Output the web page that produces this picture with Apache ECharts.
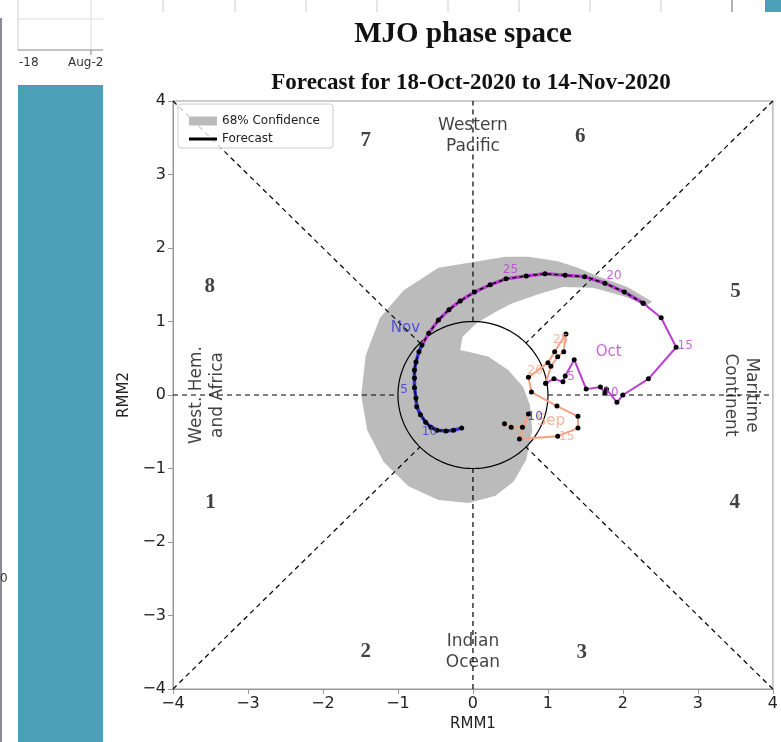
<!DOCTYPE html>
<html><head><meta charset="utf-8">
<script src="https://cdn.jsdelivr.net/npm/echarts@6/dist/echarts.min.js"></script>
<style>html,body{margin:0;padding:0;background:#fff}#c{width:781px;height:742px}</style>
</head><body><div id="c"></div>
<script>
// ---------- data (RMM1, RMM2) ----------
const sepObs = [[0.42,-0.39],[0.51,-0.44],[0.66,-0.44],[0.74,-0.26],[0.62,-0.60],[1.13,-0.56],[1.40,-0.45],[1.40,-0.29],[1.12,-0.15],[0.78,0.04],[0.74,0.24],[1.00,0.44],[1.09,0.59],[1.24,0.83],[1.21,0.59],[1.13,0.52],[1.04,0.39]];
const octObs = [[0.97,0.16],[1.08,0.22],[1.20,0.18],[1.23,0.26],[1.35,0.48],[1.51,0.08],[1.70,0.11],[1.76,0.03],[1.78,0.08],[1.92,-0.10],[2.00,0.00],[2.34,0.22],[2.71,0.65],[2.51,1.05],[2.27,1.25]];
const fcOct = [[2.02,1.40],[1.76,1.52],[1.49,1.61],[1.23,1.63],[0.96,1.65],[0.71,1.62],[0.44,1.58],[0.23,1.50],[0.02,1.40],[-0.17,1.28],[-0.32,1.16],[-0.46,1.02],[-0.59,0.84]];
const fcNov = [[-0.68,0.68],[-0.72,0.59],[-0.76,0.45],[-0.78,0.34],[-0.78,0.23],[-0.78,0.10],[-0.76,-0.04],[-0.75,-0.16],[-0.70,-0.27],[-0.63,-0.37],[-0.56,-0.44],[-0.48,-0.48],[-0.36,-0.49],[-0.26,-0.48],[-0.15,-0.45]];
const confPoly = [[2.39,1.27],[2.06,1.47],[1.66,1.62],[1.40,1.73],[1.13,1.82],[0.74,1.88],[0.43,1.88],[0.07,1.82],[-0.46,1.73],[-0.92,1.43],[-1.24,1.05],[-1.43,0.54],[-1.49,0.00],[-1.41,-0.48],[-1.19,-0.91],[-0.86,-1.24],[-0.46,-1.43],[-0.06,-1.47],[0.30,-1.37],[0.54,-1.18],[0.71,-0.88],[0.79,-0.48],[0.76,-0.14],[0.67,0.11],[0.47,0.34],[0.21,0.52],[-0.06,0.59],[-0.17,0.61],[-0.14,0.79],[0.05,0.98],[0.30,1.13],[0.51,1.24],[0.87,1.37],[1.20,1.47],[1.60,1.46],[1.99,1.35],[2.32,1.22]];
const phaseLines = [[-4,-4,-0.7071,-0.7071],[4,4,0.7071,0.7071],[-4,4,-0.7071,0.7071],[4,-4,0.7071,-0.7071],[-4,0,-1,0],[1,0,4,0],[0,-4,0,-1],[0,1,0,4]];
const unitCircle = [[0,0,1]];
const sepMonth = [[1.04,-0.35,'Sep']];
const sepDays = [[1.25,-0.57,'15'],[0.83,0.33,'20'],[1.17,0.75,'25']];
const navyLabels = [[0.83,-0.30,'10']];
const octMonth = [[1.81,0.59,'Oct']];
const octDays = [[1.31,0.24,'5'],[1.84,0.03,'10'],[2.83,0.67,'15'],[1.88,1.62,'20'],[0.50,1.70,'25']];
const novMonth = [[-0.90,0.91,'Nov']];
const novDays = [[-0.92,0.07,'5'],[-0.58,-0.50,'10']];
const phaseNums = [[-3.50,-1.46,'1'],[-1.43,-3.49,'2'],[1.45,-3.50,'3'],[3.49,-1.47,'4'],[3.50,1.41,'5'],[1.43,3.52,'6'],[-1.43,3.46,'7'],[-3.51,1.47,'8']];
const regionsH = [[0,3.52,'Western\nPacific'],[0,-3.50,'Indian\nOcean']];
const regionW = [[-3.54,0,'West. Hem.\nand Africa']];
const regionE = [[3.58,0,'Maritime\nContinent']];
const axisMin = -4, axisMax = 4, axisStep = 1;

// ---------- styling ----------
const C_SEP = '#f5a083', C_OCT = '#bb3dd2', C_NOV = '#3a32dc', C_GREY = '#bbbbbb';
const F = 'DejaVu Sans';
const minus = v => (v < 0 ? '\u2212' + Math.abs(v) : String(v));

function textSeries(data, color, size, extra) {
  return {
    type: 'scatter', data: data, symbolSize: 0, silent: true, z: 6,
    label: Object.assign({show: true, position: 'inside', formatter: p => p.data[2],
      color: color, fontSize: size, fontFamily: F}, extra || {})
  };
}

const chart = echarts.init(document.getElementById('c'));
const lastOct = octObs[octObs.length - 1];
const forecastAll = [lastOct].concat(fcOct, fcNov);

chart.setOption({
  animation: false,
  grid: {left: 173, right: 5, top: 101, bottom: 53, show: true, borderColor: '#999', borderWidth: 1},
  xAxis: {type: 'value', min: axisMin, max: axisMax, interval: axisStep,
    name: 'RMM1', nameLocation: 'middle', nameGap: 26,
    nameTextStyle: {fontSize: 15, color: '#222', fontFamily: F},
    axisLine: {onZero: false, lineStyle: {color: '#999'}},
    axisTick: {show: true, length: 5, lineStyle: {color: '#999'}},
    axisLabel: {formatter: minus, fontSize: 16, color: '#222', fontFamily: F, margin: 7},
    splitLine: {show: false}},
  yAxis: {type: 'value', min: axisMin, max: axisMax, interval: axisStep,
    name: 'RMM2', nameLocation: 'middle', nameGap: 40,
    nameTextStyle: {fontSize: 15, color: '#222', fontFamily: F},
    axisLine: {onZero: false, lineStyle: {color: '#999'}},
    axisTick: {show: true, length: 5, lineStyle: {color: '#999'}},
    axisLabel: {formatter: minus, fontSize: 16, color: '#222', fontFamily: F, margin: 7},
    splitLine: {show: false}},
  legend: [
    {left: 184, top: 110, orient: 'vertical', itemWidth: 28, itemHeight: 9, icon: 'rect', z: 60,
     data: [{name: '68% Confidence', itemStyle: {color: C_GREY}}],
     textStyle: {fontSize: 12, color: '#222', fontFamily: F}, selectedMode: false},
    {left: 184, top: 128, orient: 'vertical', itemWidth: 28, itemHeight: 3, icon: 'rect', z: 60,
     data: [{name: 'Forecast', itemStyle: {color: '#000'}}],
     textStyle: {fontSize: 12, color: '#222', fontFamily: F}, selectedMode: false}
  ],
  series: [
    {type: 'custom', name: '68% Confidence', data: [confPoly[0]], encode: {x: 0, y: 1}, z: 1, silent: true,
     itemStyle: {color: C_GREY},
     renderItem: (params, api) => ({type: 'polygon', shape: {points: confPoly.map(p => api.coord(p))},
       style: {fill: C_GREY, stroke: null}})},
    {type: 'custom', data: phaseLines, encode: {x: [0, 2], y: [1, 3]}, z: 2, silent: true,
     renderItem: (params, api) => {
       const a = api.coord([api.value(0), api.value(1)]), b = api.coord([api.value(2), api.value(3)]);
       return {type: 'line', shape: {x1: a[0], y1: a[1], x2: b[0], y2: b[1]},
         style: {stroke: '#000', lineWidth: 1.2, lineDash: [5, 4]}};
     }},
    {type: 'custom', data: unitCircle, encode: {x: 0, y: 1}, z: 2, silent: true,
     renderItem: (params, api) => {
       const cx = api.value(0), cy = api.value(1), r = api.value(2), pts = [];
       for (let i = 0; i <= 180; i++) { const t = i / 180 * 2 * Math.PI; pts.push(api.coord([cx + r * Math.cos(t), cy + r * Math.sin(t)])); }
       return {type: 'polyline', shape: {points: pts}, style: {stroke: '#000', lineWidth: 1.2, fill: null}};
     }},
    {type: 'line', data: sepObs.concat([octObs[0]]), z: 3, silent: true, lineStyle: {color: C_SEP, width: 2},
     symbol: 'circle', symbolSize: 5, itemStyle: {color: '#000'}},
    {type: 'line', data: octObs, z: 3, silent: true, lineStyle: {color: C_OCT, width: 2},
     symbol: 'circle', symbolSize: 5, itemStyle: {color: '#000'}},
    {type: 'line', data: [lastOct].concat(fcOct, [fcNov[0]]), z: 4, silent: true, lineStyle: {color: C_OCT, width: 3.5},
     symbol: 'none'},
    {type: 'line', data: fcNov, z: 4, silent: true, lineStyle: {color: C_NOV, width: 3.5}, symbol: 'none'},
    {type: 'line', name: 'Forecast', data: forecastAll, z: 5, silent: true, color: '#000',
     lineStyle: {color: '#000', width: 1.5, type: [4, 3]},
     symbol: 'circle', symbolSize: 5, itemStyle: {color: '#000'}},
    textSeries(sepMonth, C_SEP, 15),
    textSeries(sepDays, C_SEP, 12),
    textSeries(navyLabels, '#2c2c9a', 12),
    textSeries(octMonth, C_OCT, 15),
    textSeries(octDays, C_OCT, 12),
    textSeries(novMonth, C_NOV, 15),
    textSeries(novDays, C_NOV, 12),
    textSeries(phaseNums, '#111', 21, {fontFamily: 'Liberation Serif', fontWeight: 'bold'}),
    textSeries(regionsH, '#111', 17, {lineHeight: 21}),
    textSeries(regionW, '#111', 17, {lineHeight: 21, rotate: 90}),
    textSeries(regionE, '#111', 17, {lineHeight: 21, rotate: -90})
  ],
  graphic: [
    {type: 'rect', z: 50, shape: {x: 178, y: 104, width: 155, height: 44, r: 3},
     style: {fill: 'rgba(255,255,255,0.8)', stroke: '#ccc', lineWidth: 1}},
    {type: 'text', x: 463, y: 35, style: {text: 'MJO phase space', align: 'center', verticalAlign: 'middle',
      font: 'bold 29px "Liberation Serif"', fill: '#111'}},
    {type: 'text', x: 471, y: 83, style: {text: 'Forecast for 18-Oct-2020 to 14-Nov-2020', align: 'center', verticalAlign: 'middle',
      font: 'bold 23px "Liberation Serif"', fill: '#111'}},
    // screenshot fragments at the edges
    {type: 'rect', shape: {x: 18, y: 85, width: 85, height: 657}, style: {fill: '#4ba0b8'}},
    {type: 'line', shape: {x1: 18, y1: 19, x2: 103, y2: 19}, style: {stroke: '#ddd'}},
    {type: 'line', shape: {x1: 91, y1: 0, x2: 91, y2: 50}, style: {stroke: '#ddd'}},
    {type: 'line', shape: {x1: 18, y1: 0, x2: 18, y2: 50}, style: {stroke: '#ccc'}},
    {type: 'line', shape: {x1: 18, y1: 50, x2: 103, y2: 50}, style: {stroke: '#888'}},
    {type: 'line', shape: {x1: 91, y1: 50, x2: 91, y2: 55}, style: {stroke: '#888'}},
    {type: 'line', shape: {x1: 1, y1: 18, x2: 1, y2: 742}, style: {stroke: '#8a8a9a', lineWidth: 2}},
    {type: 'text', x: 19, y: 57, style: {text: '-18', font: '12px "DejaVu Sans"', fill: '#333'}},
    {type: 'text', x: 68, y: 57, style: {text: 'Aug-2', font: '12px "DejaVu Sans"', fill: '#333'}},
    {type: 'text', x: 0, y: 573, style: {text: '0', font: '12px "DejaVu Sans"', fill: '#333'}},
    {type: 'line', shape: {x1: 163, y1: 0, x2: 163, y2: 12}, style: {stroke: '#ccc'}},
    {type: 'line', shape: {x1: 235, y1: 0, x2: 235, y2: 12}, style: {stroke: '#ccc'}},
    {type: 'line', shape: {x1: 306, y1: 0, x2: 306, y2: 12}, style: {stroke: '#ccc'}},
    {type: 'line', shape: {x1: 377, y1: 0, x2: 377, y2: 12}, style: {stroke: '#ccc'}},
    {type: 'line', shape: {x1: 448, y1: 0, x2: 448, y2: 12}, style: {stroke: '#ccc'}},
    {type: 'line', shape: {x1: 519, y1: 0, x2: 519, y2: 12}, style: {stroke: '#ccc'}},
    {type: 'line', shape: {x1: 590, y1: 0, x2: 590, y2: 12}, style: {stroke: '#ccc'}},
    {type: 'line', shape: {x1: 661, y1: 0, x2: 661, y2: 12}, style: {stroke: '#ccc'}},
    {type: 'line', shape: {x1: 732, y1: 0, x2: 732, y2: 12}, style: {stroke: '#666'}},
    {type: 'rect', shape: {x: 765, y: 0, width: 16, height: 12}, style: {fill: '#4ba0b8'}}
  ]
});
</script>
</body></html>
